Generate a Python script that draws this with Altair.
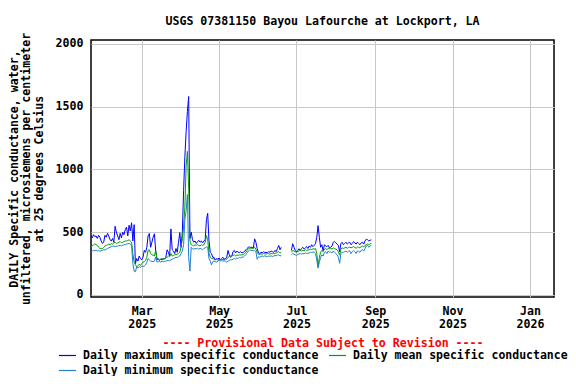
import altair as alt
import pandas as pd

TITLE = "USGS 07381150 Bayou Lafourche at Lockport, LA"
Y_TITLE = ["DAILY Specific conductance, water,",
           "unfiltered, microsiemens per centimeter",
           "at 25 degrees Celsius"]
FOOTER = "---- Provisional Data Subject to Revision ----"
SERIES = ["Daily maximum specific conductance",
          "Daily mean specific conductance",
          "Daily minimum specific conductance"]
COLORS = ["#0000ff", "#00a000", "#1f80d0"]
Y_TICKS = [0, 500, 1000, 1500, 2000]
X_TICKS = [(2025, 3), (2025, 5), (2025, 7), (2025, 9), (2025, 11), (2026, 1)]

START_A = "2025-01-20"
START_B = "2025-06-27"

MAX_A = [470, 455, 480, 465, 470, 450, 475, 460, 430,
         410, 420,
         475, 460, 490, 470,
         440, 430, 450, 420,
         547, 500,
         470, 440, 490, 455,
         500, 480, 520,
         540, 470, 555, 510,
         575, 430, 560,
         250,
         290, 270, 310, 290, 280, 300,
         355, 340, 380, 470,
         490, 380, 420, 460, 487,
         350,
         280, 290, 275, 285, 280, 290, 285, 300,
         360, 340, 310,
         526,
         360, 350, 330, 370, 340,
         420, 497, 380,
         500, 830, 1100, 1300, 1460, 1580,
         450,
         500, 440, 420, 430, 410, 425, 435, 420, 430, 415, 430, 440,
         600, 650,
         434,
         340, 330, 300,
         300, 280, 290, 285, 295, 280, 290, 300, 285, 290, 300, 355, 320, 300,
         310,
         345, 355, 335, 350, 340, 338, 345, 335, 340,
         345, 360, 370, 380, 382, 378, 380, 375,
         447, 420,
         370,
         335, 330, 340, 335, 345, 338, 340, 335, 345, 340,
         350, 345, 340, 355, 345, 370, 395, 360, 380]

MEAN_A = [381, 390, 400, 408, 400, 395, 380, 370, 368,
          370, 380, 390, 395, 400, 405, 400,
          410, 405, 415, 420, 410, 415, 420, 425, 415, 420, 425, 430,
          430, 434, 440, 430, 420,
          330, 260, 240,
          225, 232, 245, 235, 250, 262,
          265, 275, 300, 355, 360, 330, 320, 318, 310,
          355,
          290, 285, 280, 285, 290, 285, 290, 295, 300, 310, 305, 330, 310, 315, 320, 322, 325, 330, 340,
          380, 450,
          540, 700, 1026, 1144, 850, 430,
          400, 395, 390, 400, 395, 400, 395, 390, 400, 395, 400, 420,
          473, 440,
          333, 302, 290, 290,
          285, 280, 282, 278, 281, 280, 285, 282, 280, 283, 285, 300, 305, 310,
          310, 315, 320, 312, 318, 315, 320, 318, 320, 322,
          330, 340, 355, 368, 372, 373, 372, 370,
          380, 365, 340,
          325, 322, 328, 325, 330, 328, 325, 330, 328, 325,
          330, 328, 332, 330, 335, 340, 345, 335, 340]

MIN_A = [342, 350, 355, 352, 358, 350, 355, 348, 352,
         355, 360, 358, 365, 370, 375, 380,
         385, 387, 390, 385, 388, 390, 392, 395, 390, 395, 400, 402,
         405, 408, 410, 405, 395,
         250, 190, 185,
         224, 215, 225, 220, 230, 228,
         230, 240, 260, 290, 280, 270, 268, 265, 270,
         300,
         263, 265, 268, 262, 270, 265, 268, 270, 272, 275, 272, 280, 285, 290, 295, 300, 298, 305, 310,
         330, 350,
         400, 600, 670, 800, 300, 190,
         380, 368, 365, 370, 368, 372, 365, 370, 368, 360, 370, 375,
         383, 380,
         290, 270, 240, 265,
         270, 265, 262, 268, 278, 272, 275, 270, 272, 268, 262, 270, 275, 280,
         280, 285, 292, 285, 295, 290, 300, 295, 303, 300,
         310, 320, 335, 350, 357, 357, 355, 352,
         355, 345, 284,
         305, 300, 308, 310, 305, 312, 308, 305, 310, 308,
         312, 306, 310, 315, 312, 318, 320, 310, 316]

MAX_B = [355, 408, 381, 355, 342, 355, 368, 355,
         370, 380, 365, 375, 385, 370, 390, 380, 400, 385, 395, 410,
         460, 552, 460, 380, 400, 350,
         400, 390, 385, 395, 375, 380, 390, 420, 425, 415, 405, 395, 344, 410,
         420,
         400, 410, 420, 405, 415, 420, 400, 410, 425, 415, 405, 420,
         410, 400, 415, 420, 405, 430, 444, 440, 430, 435, 440]

MEAN_B = [340, 355, 350, 345, 340, 345, 350, 355,
          350, 355, 352, 360, 355, 358, 360, 365, 362, 368, 365, 370,
          330, 225, 300, 340, 355, 345,
          365, 370, 360, 372, 368, 372, 365, 375, 370, 365, 360, 345, 317, 365,
          375,
          370, 375, 380, 372, 378, 382, 375, 380, 385, 378, 372, 382,
          380, 375, 385, 390, 382, 395, 400, 405, 400, 408, 410]

MIN_B = [320, 330, 325, 320, 315, 322, 328, 330,
         325, 330, 328, 335, 330, 332, 335, 340, 338, 342, 340, 330,
         280, 214, 260, 300, 320, 310,
         340, 345, 330, 350, 340, 345, 335, 350, 340, 330, 320, 300, 252, 330,
         340,
         340, 345, 350, 340, 348, 352, 330, 345, 355, 345, 330, 350,
         348, 340, 355, 360, 350, 370, 390, 395, 380, 390, 395]

rows = []
for seg, start, lists in [("a", START_A, (MAX_A, MEAN_A, MIN_A)),
                          ("b", START_B, (MAX_B, MEAN_B, MIN_B))]:
    for name, vals in zip(SERIES, lists):
        dates = pd.date_range(start, periods=len(vals), freq="D")
        for d, v in zip(dates, vals):
            rows.append({"date": d.strftime("%Y-%m-%dT00:00:00"),
                         "value": v, "series": name, "seg": seg})
df = pd.DataFrame(rows)

FONT = "DejaVu Sans Mono"
FS = 11.6

x_axis = alt.Axis(
    values=[alt.DateTime(year=y, month=m, date=1) for y, m in X_TICKS],
    labelExpr="[timeFormat(datum.value, '%b'), timeFormat(datum.value, '%Y')]",
    labelLineHeight=13, labelBaseline="top", labelPadding=8, labelAlign="center",
    title=FOOTER, titleColor="#ff0000", titleBaseline="middle", titleY=46,
)
y_axis = alt.Axis(
    values=Y_TICKS, format="d", labelPadding=8,
    title=Y_TITLE, titleAngle=270, titleAlign="center", titleBaseline="middle",
    titleX=-77, titleY=128.5, titleLineHeight=12.5, titleColor="black",
)

chart = alt.Chart(df).mark_line(strokeWidth=1).encode(
    x=alt.X("date:T",
            scale=alt.Scale(domain=[alt.DateTime(year=2025, month=1, date=20),
                                    alt.DateTime(year=2026, month=1, date=20)]),
            axis=x_axis),
    y=alt.Y("value:Q", scale=alt.Scale(domain=[-16, 2030], nice=False, zero=False),
            axis=y_axis),
    color=alt.Color("series:N",
                    scale=alt.Scale(domain=SERIES, range=COLORS),
                    legend=alt.Legend(title=None, orient="none", legendX=-33, legendY=306,
                                      columns=2, direction="horizontal",
                                      symbolType="stroke", symbolSize=289,
                                      symbolStrokeWidth=1.2, labelFont=FONT, labelFontSize=11.5,
                                      labelFontWeight="bold", labelColor="black",
                                      labelLimit=400, labelOffset=6, columnPadding=7,
                                      rowPadding=-1, padding=0)),
    detail="seg:N",
).properties(
    width=463, height=257,
    background="white",
    autosize=alt.AutoSizeParams(type="none"),
    padding={"left": 83, "top": 32, "right": 14, "bottom": 79},
    title=alt.TitleParams(TITLE, font=FONT, fontSize=FS, fontWeight="bold", color="black",
                          anchor="middle", frame="group", baseline="middle", offset=-1),
).configure_axis(
    labelFont=FONT, labelFontSize=FS, labelFontWeight="bold", labelColor="black",
    titleFont=FONT, titleFontSize=FS, titleFontWeight="bold",
    gridColor="#c8c8c8", gridWidth=1, domain=False, tickSize=0,
).configure_view(
    stroke="black", strokeWidth=1.5,
)

chart.save("out.html", embed_options={"renderer": "svg", "actions": False})
